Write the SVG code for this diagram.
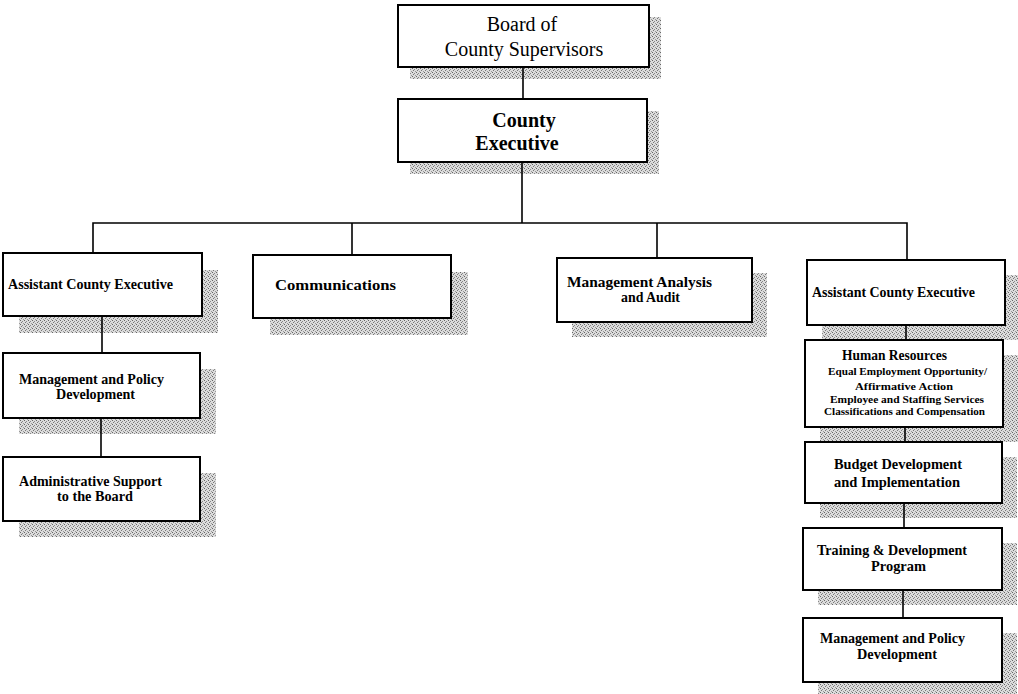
<svg xmlns="http://www.w3.org/2000/svg" width="1018" height="694" viewBox="0 0 1018 694">
<defs>
<pattern id="stip" width="4" height="4" patternUnits="userSpaceOnUse">
<rect width="4" height="4" fill="#dcdcdc"/>
<rect x="0" y="0" width="1" height="1" fill="#666"/>
<rect x="2" y="1" width="1" height="1" fill="#888"/>
<rect x="1" y="2" width="1" height="1" fill="#777"/>
<rect x="3" y="3" width="1" height="1" fill="#999"/>
</pattern>
</defs>
<style>
.box{fill:#fff;stroke:#000;stroke-width:2}
.sh{fill:url(#stip)}
.t{font-family:"Liberation Serif","Times New Roman",serif;font-weight:bold;fill:#000}
.n{font-family:"Liberation Serif","Times New Roman",serif;fill:#000}
.c{stroke:#000;stroke-width:1.6;fill:none}
</style>
<rect width="1018" height="694" fill="#fff"/>

<g id="board">
<rect class="sh" x="410" y="17" width="251" height="62"/>
<rect class="box" x="398" y="5" width="251" height="62"/>
<text class="n" font-size="20" text-anchor="middle" x="522" y="31">Board of</text>
<text class="n" font-size="20" text-anchor="middle" x="524" y="56">County Supervisors</text>
</g>

<g id="county-executive">
<rect class="sh" x="410" y="111" width="249" height="63"/>
<rect class="box" x="398" y="99" width="249" height="63"/>
<text class="t" font-size="20" text-anchor="middle" x="524" y="127">County</text>
<text class="t" font-size="20" text-anchor="middle" x="517" y="150">Executive</text>
</g>

<g id="ace-left">
<rect class="sh" x="19" y="270" width="199" height="63"/>
<rect class="box" x="3" y="253" width="199" height="63"/>
<text class="t" font-size="14" x="8" y="289" textLength="165" lengthAdjust="spacingAndGlyphs">Assistant County Executive</text>
</g>

<g id="communications">
<rect class="sh" x="270" y="272" width="198" height="63"/>
<rect class="box" x="253" y="255" width="198" height="63"/>
<text class="t" font-size="14" x="275" y="290" textLength="121" lengthAdjust="spacingAndGlyphs">Communications</text>
</g>

<g id="mgmt-analysis">
<rect class="sh" x="572" y="273" width="195" height="64"/>
<rect class="box" x="557" y="258" width="195" height="64"/>
<text class="t" font-size="14" x="567" y="287" textLength="145" lengthAdjust="spacingAndGlyphs">Management Analysis</text>
<text class="t" font-size="14" x="621" y="302" textLength="59" lengthAdjust="spacingAndGlyphs">and Audit</text>
</g>

<g id="ace-right">
<rect class="sh" x="822" y="275" width="198" height="65"/>
<rect class="box" x="807" y="260" width="198" height="65"/>
<text class="t" font-size="14" x="812" y="297" textLength="163" lengthAdjust="spacingAndGlyphs">Assistant County Executive</text>
</g>

<g id="mpd-left">
<rect class="sh" x="19" y="369" width="197" height="65"/>
<rect class="box" x="3" y="353" width="197" height="65"/>
<text class="t" font-size="14" x="19" y="384" textLength="145" lengthAdjust="spacingAndGlyphs">Management and Policy</text>
<text class="t" font-size="14" x="56" y="399" textLength="79" lengthAdjust="spacingAndGlyphs">Development</text>
</g>

<g id="admin-support">
<rect class="sh" x="19" y="473" width="197" height="64"/>
<rect class="box" x="3" y="457" width="197" height="64"/>
<text class="t" font-size="14" x="19" y="486" textLength="143" lengthAdjust="spacingAndGlyphs">Administrative Support</text>
<text class="t" font-size="14" x="57" y="501" textLength="76" lengthAdjust="spacingAndGlyphs">to the Board</text>
</g>

<g id="human-resources">
<rect class="sh" x="820" y="355" width="198" height="87"/>
<rect class="box" x="805" y="340" width="198" height="87"/>
<text class="t" font-size="14" x="842" y="360" textLength="105" lengthAdjust="spacingAndGlyphs">Human Resources</text>
<text class="t" font-size="10" x="828" y="375" textLength="159" lengthAdjust="spacingAndGlyphs">Equal Employment Opportunity/</text>
<text class="t" font-size="10" x="855" y="390" textLength="98" lengthAdjust="spacingAndGlyphs">Affirmative Action</text>
<text class="t" font-size="10" x="830" y="403" textLength="154" lengthAdjust="spacingAndGlyphs">Employee and Staffing Services</text>
<text class="t" font-size="10" x="824" y="415" textLength="161" lengthAdjust="spacingAndGlyphs">Classifications and Compensation</text>
</g>

<g id="budget">
<rect class="sh" x="820" y="457" width="197" height="61"/>
<rect class="box" x="805" y="442" width="197" height="61"/>
<text class="t" font-size="14" x="834" y="469" textLength="128" lengthAdjust="spacingAndGlyphs">Budget Development</text>
<text class="t" font-size="14" x="834" y="487" textLength="126" lengthAdjust="spacingAndGlyphs">and Implementation</text>
</g>

<g id="training">
<rect class="sh" x="818" y="543" width="199" height="62"/>
<rect class="box" x="803" y="528" width="199" height="62"/>
<text class="t" font-size="14" x="817" y="555" textLength="150" lengthAdjust="spacingAndGlyphs">Training &amp; Development</text>
<text class="t" font-size="14" x="871" y="571" textLength="55" lengthAdjust="spacingAndGlyphs">Program</text>
</g>

<g id="mpd-right">
<rect class="sh" x="818" y="633" width="199" height="64"/>
<rect class="box" x="803" y="618" width="199" height="64"/>
<text class="t" font-size="14" x="820" y="643" textLength="145" lengthAdjust="spacingAndGlyphs">Management and Policy</text>
<text class="t" font-size="14" x="857" y="659" textLength="80" lengthAdjust="spacingAndGlyphs">Development</text>
</g>

<g id="connectors">
<line class="c" x1="523" y1="68" x2="523" y2="98"/>
<line class="c" x1="522" y1="163" x2="522" y2="223"/>
<polyline class="c" points="93,252 93,223 907,223 907,259"/>
<line class="c" x1="352" y1="223" x2="352" y2="254"/>
<line class="c" x1="657" y1="223" x2="657" y2="257"/>
<line class="c" x1="102" y1="317" x2="102" y2="352"/>
<line class="c" x1="101" y1="419" x2="101" y2="456"/>
<line class="c" x1="906" y1="326" x2="906" y2="339"/>
<line class="c" x1="905" y1="428" x2="905" y2="441"/>
<line class="c" x1="904" y1="504" x2="904" y2="527"/>
<line class="c" x1="903" y1="591" x2="903" y2="617"/>
</g>
</svg>
